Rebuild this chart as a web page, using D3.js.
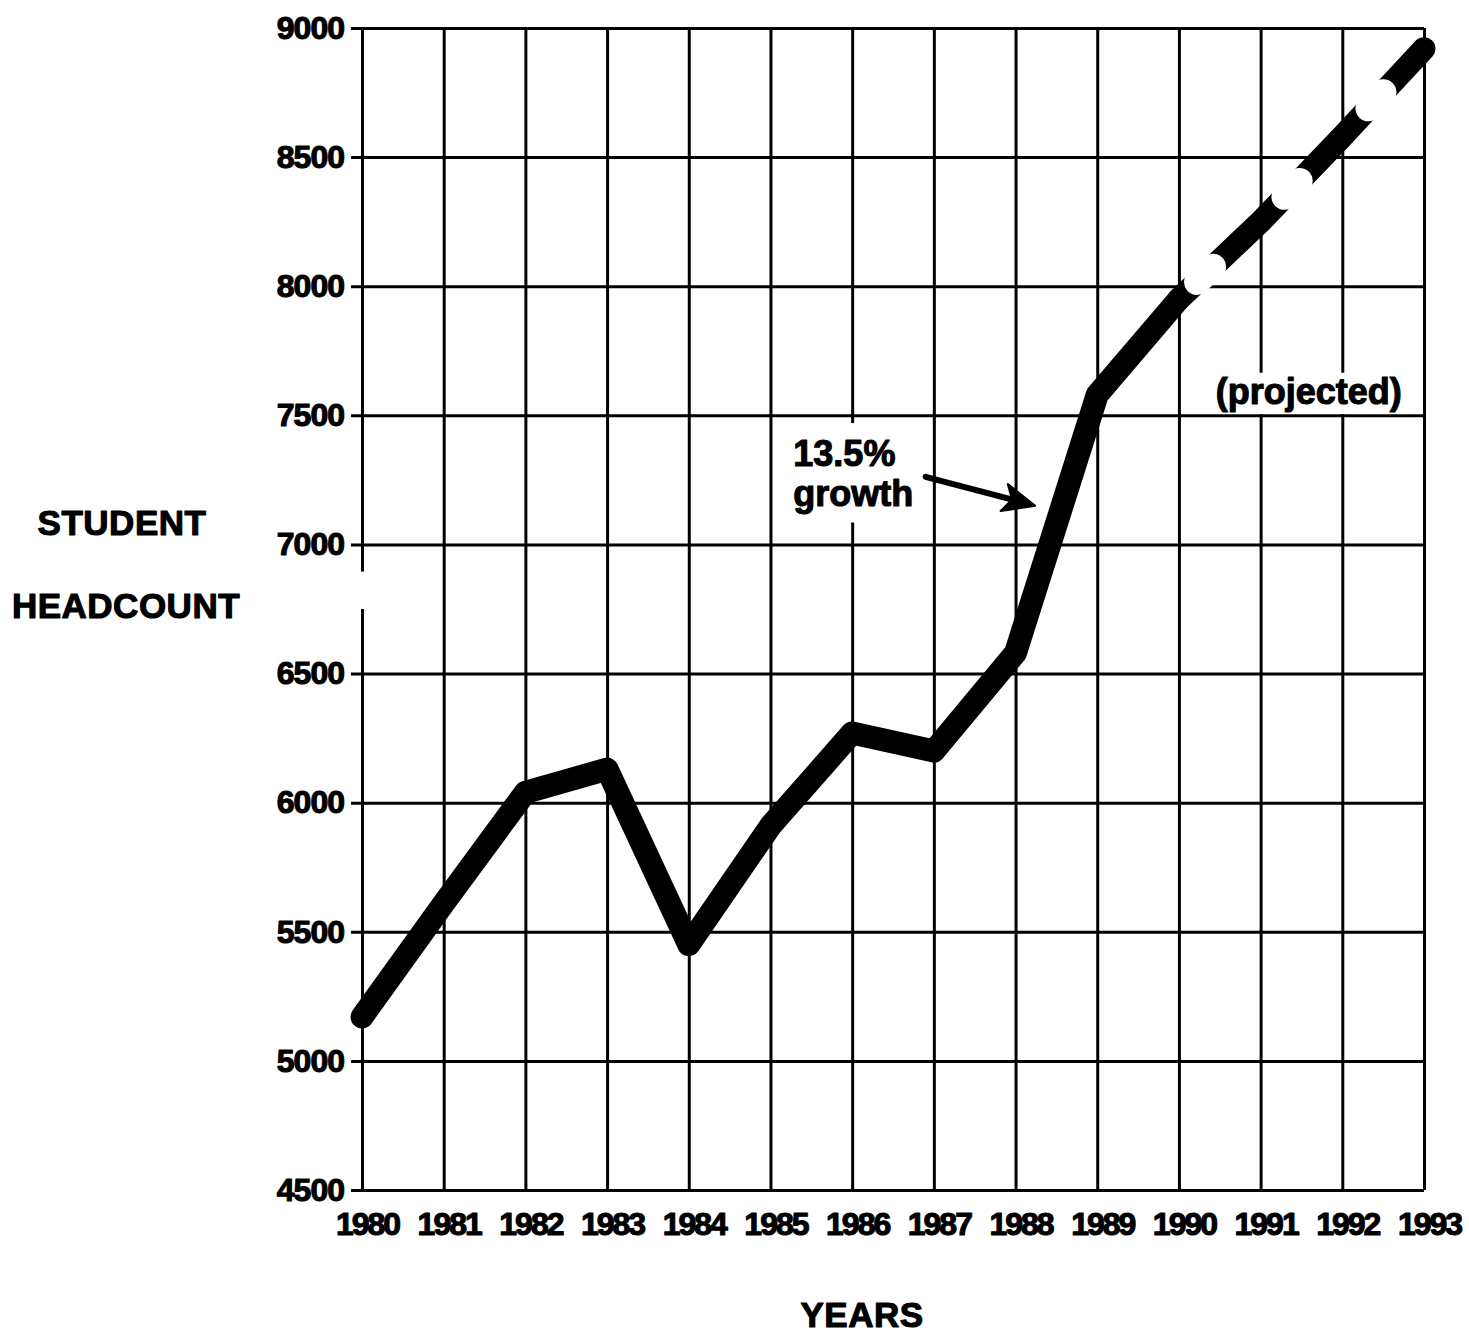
<!DOCTYPE html>
<html>
<head>
<meta charset="utf-8">
<script src="https://cdn.jsdelivr.net/npm/d3@7"></script>
<style>
  html, body { margin: 0; padding: 0; background: #fff; }
  svg { display: block; font-family: "Liberation Sans", Arial, Helvetica, sans-serif; font-weight: bold; }
</style>
</head>
<body>
<svg id="chart" width="1469" height="1334"></svg>
<script>
// ---- data ----
const yearTicks = [1980, 1981, 1982, 1983, 1984, 1985, 1986, 1987, 1988, 1989, 1990, 1991, 1992, 1993];
const headcountTicks = [4500, 5000, 5500, 6000, 6500, 7000, 7500, 8000, 8500, 9000];
const actualYears = [1980, 1981, 1982, 1983, 1984, 1985, 1986, 1987, 1988, 1989, 1990];
const actualHeadcount = [5170, 5610, 6040, 6130, 5450, 5910, 6270, 6200, 6580, 7580, 7950];
const projectedYears = [1990, 1991, 1992, 1993];
const projectedHeadcount = [7950, 8250, 8580, 8920];
const growthLabel = ["13.5%", "growth"];
const projectedLabel = "(projected)";
const yTitle = ["STUDENT", "HEADCOUNT"];
const xTitle = "YEARS";

// ---- layout ----
const svg = d3.select("#chart");
const x = d3.scaleLinear().domain([1980, 1993]).range([362, 1424]);
const y = d3.scaleLinear().domain([4500, 9000]).range([1190, 28]);
const plotW = x(1993) - x(1980);
const plotH = y(4500) - y(9000);
const stub = 11;
const gridStroke = 3;
const ff = "'Liberation Sans', Arial, sans-serif";

function heavy(sel, size, ls) {
  sel.attr("fill", "#000").attr("stroke", "#000").attr("stroke-width", 1.1)
     .attr("stroke-linejoin", "round")
     .attr("font-size", size).attr("font-weight", "bold").attr("font-family", ff)
     .attr("letter-spacing", ls);
  return sel;
}

// horizontal grid + y labels
const yAxis = svg.append("g")
  .attr("transform", `translate(${x(1980) - stub},0)`)
  .call(d3.axisLeft(y).tickValues(headcountTicks).tickSize(-(plotW + stub)).tickSizeOuter(0).tickPadding(7).tickFormat(d3.format("d")));
yAxis.select(".domain").remove();
yAxis.selectAll(".tick line").attr("stroke", "#000").attr("stroke-width", gridStroke);
heavy(yAxis.selectAll(".tick text"), 32, "-1px");

// vertical grid + x labels
const xAxis = svg.append("g")
  .attr("transform", `translate(0,${y(4500)})`)
  .call(d3.axisBottom(x).tickValues(yearTicks).tickSize(-plotH).tickSizeOuter(0).tickPadding(22).tickFormat(d3.format("d")));
xAxis.select(".domain").remove();
xAxis.selectAll(".tick line").attr("stroke", "#000").attr("stroke-width", gridStroke);
heavy(xAxis.selectAll(".tick text"), 32, "-2px").attr("dx", 5);

// scan gap in left axis
svg.append("rect")
  .attr("x", x(1980) - 6).attr("y", y(6895)).attr("width", 12).attr("height", y(6750) - y(6895))
  .attr("fill", "#fff");

// label backgrounds (cover grid)
svg.append("rect")
  .attr("x", x(1985.32)).attr("y", y(7470)).attr("width", x(1986.9) - x(1985.32)).attr("height", y(7085) - y(7470))
  .attr("fill", "#fff");
svg.append("rect")
  .attr("x", x(1990.4)).attr("y", y(7665)).attr("width", x(1992.83) - x(1990.4)).attr("height", y(7505) - y(7665))
  .attr("fill", "#fff");

// data line
const line = d3.line().x(d => x(d[0])).y(d => y(d[1]));
const actual = actualYears.map((yr, i) => [yr, actualHeadcount[i]]);
const projected = projectedYears.map((yr, i) => [yr, projectedHeadcount[i]]);

svg.append("path").datum(actual).attr("d", line)
  .attr("fill", "none").attr("stroke", "#000").attr("stroke-width", 23)
  .attr("stroke-linejoin", "round").attr("stroke-linecap", "round");
svg.append("path").datum(projected).attr("d", line)
  .attr("fill", "none").attr("stroke", "#000").attr("stroke-width", 23)
  .attr("stroke-linejoin", "round").attr("stroke-linecap", "round");
// white gaps with round ends give concave dash ends
svg.append("path").datum(projected).attr("d", line)
  .attr("fill", "none").attr("stroke", "#fff").attr("stroke-width", 26)
  .attr("stroke-linecap", "round")
  .attr("stroke-dasharray", "22 100").attr("stroke-dashoffset", 97);

// annotations
const annFont = 36;
heavy(svg.append("text").attr("x", x(1985.28)).attr("y", y(7305)), annFont, "0px").text(growthLabel[0]);
heavy(svg.append("text").attr("x", x(1985.28)).attr("y", y(7150)), annFont, "0px").text(growthLabel[1]);

// arrow
const a0 = [x(1986.9), y(7262)];
const a1 = [x(1988.24), y(7150)];
const ang = Math.atan2(a1[1] - a0[1], a1[0] - a0[0]);
const ca = Math.cos(ang), sa = Math.sin(ang);
const pt = (l, w) => [a1[0] - l * ca - w * sa, a1[1] - l * sa + w * ca];
svg.append("path")
  .attr("d", `M${a0[0]},${a0[1]}L${pt(12,0)}`)
  .attr("stroke", "#000").attr("stroke-width", 6).attr("stroke-linecap", "round").attr("fill", "none");
svg.append("path")
  .attr("d", `M${a1}L${pt(32,-14)}L${pt(24,0)}L${pt(32,14)}Z`)
  .attr("fill", "#000").attr("stroke", "#000").attr("stroke-width", 2).attr("stroke-linejoin", "round");

heavy(svg.append("text").attr("x", x(1990.45)).attr("y", y(7545)), annFont, "0px").text(projectedLabel);

// axis titles
heavy(svg.append("text").attr("x", 122).attr("y", 535).attr("text-anchor", "middle"), 35, "0.5px").text(yTitle[0]);
heavy(svg.append("text").attr("x", 126).attr("y", 618).attr("text-anchor", "middle"), 35, "0.5px").text(yTitle[1]);
heavy(svg.append("text").attr("x", 862).attr("y", 1327).attr("text-anchor", "middle"), 35, "0.5px").text(xTitle);
</script>
</body>
</html>
